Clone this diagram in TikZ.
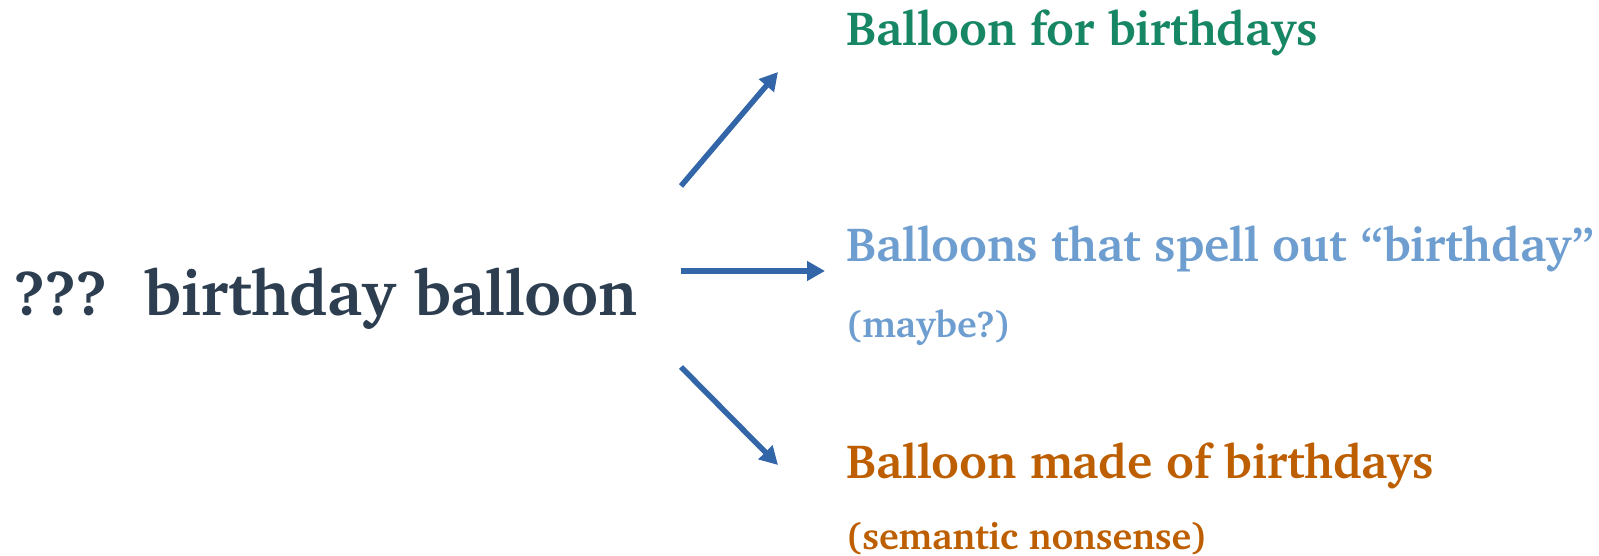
\documentclass[tikz,border=0pt]{standalone}
\usepackage[T1]{fontenc}
\usepackage{charter}
\definecolor{darktxt}{RGB}{44,62,80}
\definecolor{greentxt}{RGB}{23,134,100}
\definecolor{bluetxt}{RGB}{110,158,208}
\definecolor{orangetxt}{RGB}{189,94,0}
\definecolor{arrowblue}{RGB}{51,102,168}
\usetikzlibrary{arrows.meta}
\tikzset{
  lbl/.style={inner sep=0pt, anchor=base west, font=\bfseries},
  big/.style={font=\bfseries\fontsize{48}{52}\selectfont},
  small/.style={font=\bfseries\fontsize{37.5}{40}\selectfont},
  arr/.style={draw=arrowblue, line width=5.5pt, -{Triangle[length=18pt,width=19pt]}}
}
\begin{document}
\begin{tikzpicture}[x=1pt,y=1pt]
\useasboundingbox (0,0) rectangle (1599,556);
\node[lbl, text=darktxt, font=\bfseries\fontsize{64}{66}\selectfont] (main) at (14,240) {???\ \ birthday balloon};
\node[lbl, big, text=greentxt] (a) at (846,510) {Balloon for birthdays};
\node[lbl, big, text=bluetxt] (b) at (846,294) {Balloons that spell out ``birthday''};
\node[lbl, small, text=bluetxt] (bs) at (846,218) {(maybe?)};
\node[lbl, small, text=orangetxt] (cs) at (846,6) {(semantic nonsense)};
\node[lbl, big, text=orangetxt] (c) at (846,77) {Balloon made of birthdays};
\coordinate (s1) at (681,370);
\coordinate (e1) at (778,484);
\coordinate (s2) at (681,285);
\coordinate (e2) at (825,285);
\coordinate (s3) at (681,189);
\coordinate (e3) at (778,91);
\draw[arr] (s1) -- (e1);
\draw[arr] (s2) -- (e2);
\draw[arr] (s3) -- (e3);
\end{tikzpicture}
\end{document}
